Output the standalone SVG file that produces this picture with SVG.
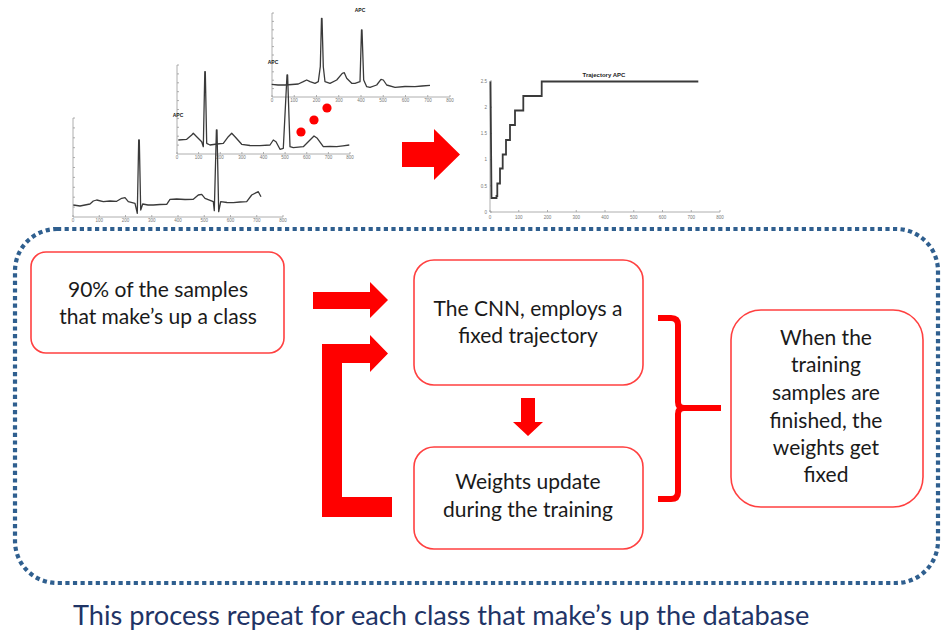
<svg xmlns="http://www.w3.org/2000/svg" width="946" height="634" viewBox="0 0 946 634">
<style>
.node rect{fill:#fff;stroke:#ff4040;stroke-width:1.6}
.lbl{font-family:Lato,"Open Sans",sans-serif;font-size:21px;fill:#1a1a1a;text-anchor:middle}
.cap{font-family:Lato,"Open Sans",sans-serif;font-size:27.2px;fill:#1f3466}
.ax{fill:none;stroke:#9a9a9a;stroke-width:0.8}
.sig{fill:none;stroke:#3a3a3a;stroke-width:1.3;stroke-linejoin:round}
.tick{font-family:"Liberation Sans",Arial,sans-serif;font-size:4.5px;fill:#777;text-anchor:middle}
.ttl{font-family:"Liberation Sans",Arial,sans-serif;font-size:5px;font-weight:bold;fill:#222;text-anchor:middle}
.red{fill:#ff0000}
</style>
<rect width="946" height="634" fill="#fff"/>

<g id="charts">
  <!-- chart 3 (top) -->
  <g id="chart-top">
    <path class="ax" d="M272,13 V97 H450"/>
    <path class="ax" d="M272,13h2M272,21.4h2M272,29.8h2M272,38.2h2M272,46.6h2M272,55h2M272,63.4h2M272,71.8h2M272,80.2h2M272,88.6h2M272,97v-2M294.25,97v-2M316.5,97v-2M338.75,97v-2M361,97v-2M383.25,97v-2M405.5,97v-2M427.75,97v-2M450,97v-2"/>
    <text class="ttl" x="360" y="12">APC</text>
    <g class="tick"><text x="272" y="102">0</text><text x="294" y="102">100</text><text x="316.5" y="102">200</text><text x="339" y="102">300</text><text x="361" y="102">400</text><text x="383" y="102">500</text><text x="405.5" y="102">600</text><text x="428" y="102">700</text><text x="450" y="102">800</text></g>
    <path class="sig" d="M271.7,84.3 L278,85 L285,85 L292,84.5 L298.3,84 L303.3,81.7 L306.7,80 L310,81.7 L315,83.3 L318.3,81.7 L320.3,66.7 L321.5,18.3 L322,18.3 L323.3,66.7 L325,81.7 L330,83.3 L336.7,80 L342.3,73.3 L344.3,72.7 L346.7,78.3 L351.7,83.3 L355,83.3 L360,81.7 L361.5,30 L362,30 L363.7,80 L366.7,86.7 L370,87.3 L376.7,85 L381,79.3 L383.3,80 L386.7,85 L395,87.3 L405,86.5 L415,86.7 L422,86 L430,85.3"/>
  </g>
  <!-- chart 2 (middle) -->
  <g id="chart-mid">
    <path class="ax" d="M177,65 V154 H350"/>
    <path class="ax" d="M177,65h2M177,73.9h2M177,82.8h2M177,91.7h2M177,100.6h2M177,109.5h2M177,118.4h2M177,127.3h2M177,136.2h2M177,145.1h2M177,154v-2M198.6,154v-2M220.25,154v-2M241.9,154v-2M263.5,154v-2M285.1,154v-2M306.75,154v-2M328.4,154v-2M350,154v-2"/>
    <text class="ttl" x="273" y="64">APC</text>
    <g class="tick"><text x="177" y="159">0</text><text x="198.6" y="159">100</text><text x="220" y="159">200</text><text x="242" y="159">300</text><text x="263.5" y="159">400</text><text x="285" y="159">500</text><text x="306.7" y="159">600</text><text x="328.4" y="159">700</text><text x="350" y="159">800</text></g>
    <path class="sig" d="M178.3,140 L186.7,139.3 L191.7,135 L193.3,133.3 L196.7,136.7 L201.7,141.7 L203.3,146.7 L204.8,71.7 L205.3,71.7 L206.7,143.3 L210,145 L217,144 L223.3,143.3 L228.3,136.7 L231.7,133.3 L235,136.7 L241.7,144.3 L250,145.5 L260,145.7 L270,145 L273.3,140 L276,141.7 L280,149.3 L283.3,148.3 L287,75 L287.6,75 L290,146.7 L293.3,147.7 L303.3,146.7 L310,140 L314,136 L317.3,138.3 L323.3,146.7 L330,146.5 L336.7,146.7 L343,145.8 L349.3,145"/>
  </g>
  <!-- chart 1 (bottom-left) -->
  <g id="chart-low">
    <path class="ax" d="M73,118 V217 H283"/>
    <path class="ax" d="M73,118h2M73,127.9h2M73,137.8h2M73,147.7h2M73,157.6h2M73,167.5h2M73,177.4h2M73,187.3h2M73,197.2h2M73,207.1h2M73,217v-2M99.25,217v-2M125.5,217v-2M151.75,217v-2M178,217v-2M204.25,217v-2M230.5,217v-2M256.75,217v-2M283,217v-2"/>
    <text class="ttl" x="178" y="117">APC</text>
    <g class="tick"><text x="73" y="222">0</text><text x="99.25" y="222">100</text><text x="125.5" y="222">200</text><text x="151.75" y="222">300</text><text x="178" y="222">400</text><text x="204.25" y="222">500</text><text x="230.5" y="222">600</text><text x="256.75" y="222">700</text><text x="283" y="222">800</text></g>
    <path class="sig" d="M73.3,205 L80,206 L85,205 L90,204 L93.3,201 L96.7,200 L103.3,201.7 L110,201 L116.7,201.3 L121.7,198.3 L125,197.7 L128.3,201.7 L135,203.3 L137.3,213.3 L138.7,140 L139.3,140 L140.7,210 L142.7,204 L148,205 L153.3,205 L160,204.5 L166.7,204.3 L170,199.3 L176.7,199 L185,199.5 L193.3,199.3 L198.3,195 L201.7,194.3 L205,198.3 L213.3,201.7 L214.3,210.7 L216.4,130 L217,130 L218.7,211.7 L220.7,201.7 L227,202.5 L233.3,202.7 L240,202 L246.7,201.7 L251.7,195 L258.3,191.7 L261,196.7"/>
  </g>
  <!-- red dots -->
  <circle class="red" cx="301" cy="132" r="4.6"/>
  <circle class="red" cx="314" cy="120" r="4.6"/>
  <circle class="red" cx="327" cy="108" r="4.6"/>
  <!-- big arrow -->
  <polygon class="red" points="402,142 434,142 434,129 460,154.5 434,180 434,167 402,167"/>
  <!-- trajectory chart -->
  <g id="chart-trajectory">
    <path class="ax" d="M490,81 V212 H720"/>
    <path class="ax" d="M490,81h2M490,107.2h2M490,133.4h2M490,159.6h2M490,185.8h2M490,212h2M490,212v-2M518.75,212v-2M547.5,212v-2M576.25,212v-2M605,212v-2M633.75,212v-2M662.5,212v-2M691.25,212v-2M720,212v-2"/>
    <text class="ttl" x="604" y="77" style="font-size:6px">Trajectory APC</text>
    <g class="tick" style="text-anchor:end"><text x="487" y="83">2.5</text><text x="487" y="109">2</text><text x="487" y="135">1.5</text><text x="487" y="161">1</text><text x="487" y="188">0.5</text><text x="487" y="214">0</text></g>
    <g class="tick"><text x="490" y="219">0</text><text x="518.75" y="219">100</text><text x="547.5" y="219">200</text><text x="576.25" y="219">300</text><text x="605" y="219">400</text><text x="633.75" y="219">500</text><text x="662.5" y="219">600</text><text x="691.25" y="219">700</text><text x="720" y="219">800</text></g>
    <path class="sig" style="stroke-width:1.8;stroke-linejoin:miter" d="M490.5,81.5 L491.5,198 L496.5,198 L496.5,196 L497.3,196 L497.3,183.5 L500,183.5 L500,168.5 L502.7,168.5 L502.7,154.5 L506,154.5 L506,140 L510,140 L510,125 L515,125 L515,110.5 L523.3,110.5 L523.3,96 L541.7,96 L541.7,81.5 L698.3,81.5"/>
  </g>
</g>

<rect id="process-frame" x="15" y="229" width="923" height="354" rx="42" fill="none" stroke="#2f5f8f" stroke-width="4.2" stroke-dasharray="4.2 3.4"/>

<g id="connectors">
  <polygon class="red" points="313,292 370,292 370,282 388,300 370,318 370,309 313,309"/>
  <polygon class="red" points="322,344 370,344 370,335 388,353.5 370,372 370,363 342,363 342,497 392,497 392,517 322,517"/>
  <polygon class="red" points="521,398 535,398 535,422 543,422 528,436 513,422 521,422"/>
  <path fill="none" stroke="#ff0000" stroke-width="6" stroke-linejoin="round" d="M658,318 L671,318 Q678,318 678,325 L678,402 Q678,408 684,408 M658,499 L671,499 Q678,499 678,492 L678,414 Q678,408 684,408 L721,408"/>
</g>

<g id="node-samples" class="node">
  <rect x="31" y="252" width="253" height="101" rx="15"/>
  <text class="lbl" x="158" y="297">90% of the samples</text>
  <text class="lbl" x="158" y="324">that make’s up a class</text>
</g>
<g id="node-cnn" class="node">
  <rect x="414" y="260" width="229" height="125" rx="20"/>
  <text class="lbl" x="528" y="316">The CNN, employs a</text>
  <text class="lbl" x="528" y="343">fixed trajectory</text>
</g>
<g id="node-weights" class="node">
  <rect x="414" y="447" width="229" height="102" rx="20"/>
  <text class="lbl" x="528" y="489">Weights update</text>
  <text class="lbl" x="528" y="517">during the training</text>
</g>
<g id="node-fixed" class="node">
  <rect x="731" y="310" width="192" height="197" rx="30"/>
  <text class="lbl" x="826" y="345">When the</text>
  <text class="lbl" x="826" y="372">training</text>
  <text class="lbl" x="826" y="400">samples are</text>
  <text class="lbl" x="826" y="428">finished, the</text>
  <text class="lbl" x="826" y="455">weights get</text>
  <text class="lbl" x="826" y="482">fixed</text>
</g>

<text class="cap" x="73" y="625">This process repeat for each class that make’s up the database</text>
</svg>
